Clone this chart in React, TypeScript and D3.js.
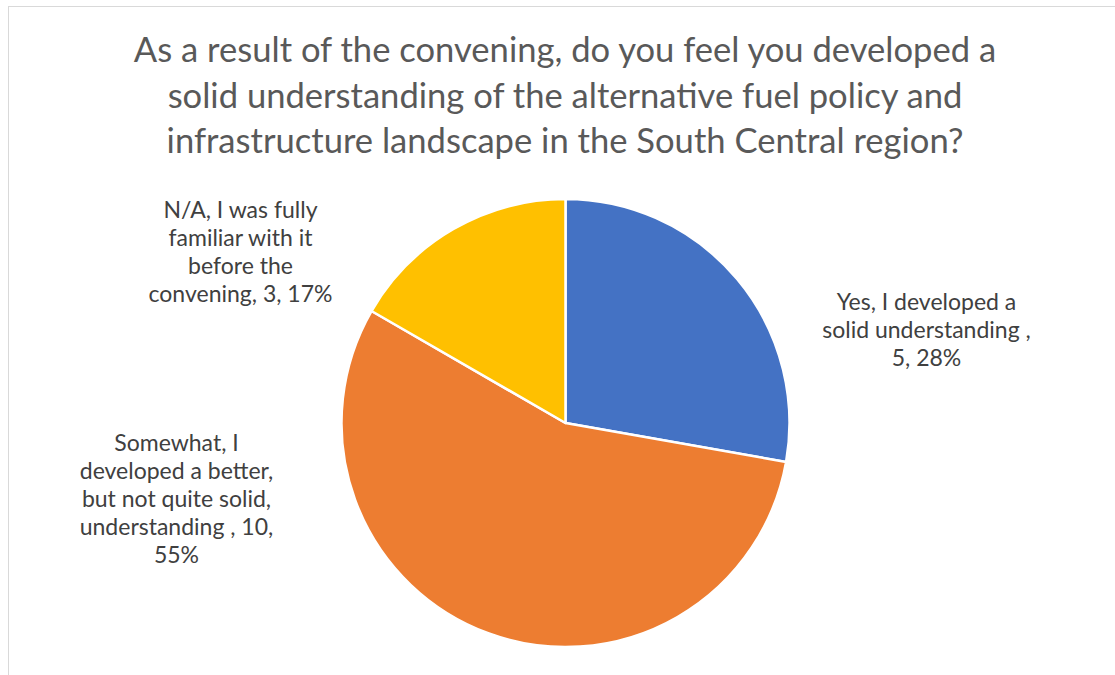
import React from "react";
import * as d3 from "d3";

const titleLines = [
  "As a result of the convening, do you feel you developed a",
  "solid understanding of the alternative fuel policy and",
  "infrastructure landscape in the South Central region?",
];

const categories = [
  "Yes, I developed a solid understanding ",
  "Somewhat, I developed a better, but not quite solid, understanding ",
  "N/A, I was fully familiar with it before the convening",
];
const values = [5, 10, 3];
const percentLabels = ["28%", "55%", "17%"];
const colors = ["#4472C4", "#ED7D31", "#FFC000"];

// wrapped label lines (text as rendered in the chart)
const labelLines = [
  ["Yes, I developed a", "solid understanding ,", "5, 28%"],
  ["Somewhat, I", "developed a better,", "but not quite solid,", "understanding , 10,", "55%"],
  ["N/A, I was fully", "familiar with it", "before the", "convening, 3, 17%"],
];

export default function App() {
  const W = 1115;
  const H = 675;
  const cx = 565.5;
  const cy = 423;
  const r = 224;

  const pie = d3
    .pie<number>()
    .sort(null)
    .value((d) => d)
    .startAngle(0)
    .endAngle(2 * Math.PI);
  const arcs = pie(values);
  const arc = d3.arc<d3.PieArcDatum<number>>().innerRadius(0).outerRadius(r);

  // label anchors (center x, first baseline y) relative to pie centre
  const labelAnchor = [
    { dx: 361, dy: -113 },
    { dx: -389, dy: 28 },
    { dx: -325, dy: -205 },
  ];
  const lineH = 28;

  return (
    <svg
      width={W}
      height={H}
      style={{ position: "absolute", left: 0, top: 0, background: "#fff" }}
      fontFamily="Lato, 'Open Sans', sans-serif"
    >
      <rect x={0} y={0} width={W} height={H} fill="#fff" />
      <rect x={8.5} y={6.5} width={W + 20} height={H + 20} fill="#fff" stroke="#d9d9d9" strokeWidth={1} />
      <g fill="#595959" fontSize={34.6} textAnchor="middle">
        {titleLines.map((t, i) => (
          <text key={i} x={565} y={62 + i * 45.5}>
            {t}
          </text>
        ))}
      </g>
      <g transform={`translate(${cx},${cy})`}>
        {arcs.map((a, i) => (
          <path key={i} d={arc(a) || ""} fill={colors[i]} stroke="#fff" strokeWidth={2.5} strokeLinejoin="round">
            <title>{`${categories[i]}, ${values[i]}, ${percentLabels[i]}`}</title>
          </path>
        ))}
      </g>
      <g fill="#404040" fontSize={23} textAnchor="middle">
        {labelLines.map((lines, i) => (
          <text key={i}>
            {lines.map((l, j) => (
              <tspan key={j} x={cx + labelAnchor[i].dx} y={cy + labelAnchor[i].dy + j * lineH}>
                {l}
              </tspan>
            ))}
          </text>
        ))}
      </g>
    </svg>
  );
}
